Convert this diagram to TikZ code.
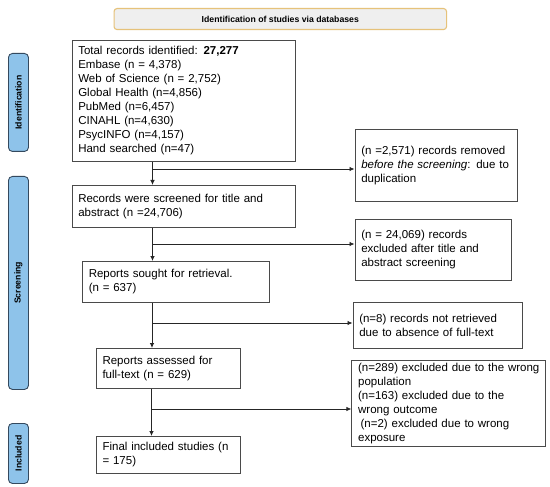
\documentclass[tikz,border=0pt]{standalone}
\usepackage{fontspec}
\setmainfont{Liberation Sans}
\usetikzlibrary{arrows.meta}
\definecolor{boxline}{HTML}{4A4A4A}
\definecolor{sidefill}{HTML}{8EC3EA}
\definecolor{sideline}{HTML}{34495E}
\definecolor{banfill}{HTML}{EFEFEF}
\definecolor{banline}{HTML}{E6C27A}
\tikzset{
  box/.style={draw=boxline, line width=0.9pt, anchor=north west, align=left,
    inner xsep=6.3pt, inner ysep=0pt, font=\fontsize{11.5}{14}\selectfont},
  side/.style={draw=sideline, fill=sidefill, line width=0.9pt, rounded corners=4pt,
    anchor=north west, minimum width=20pt, inner sep=0pt},
  sidetext/.style={rotate=90, font=\fontsize{8.7}{10}\selectfont\bfseries},
  arr/.style={draw=black!85, line width=0.8pt, -{Latex[length=5pt,width=4.5pt]}}
}
\begin{document}
\begin{tikzpicture}[x=1pt,y=-1pt]
\useasboundingbox[fill=white] (0,0) rectangle (550,487);
% banner
\node[draw=banline, fill=banfill, line width=1.1pt, rounded corners=3pt,
  anchor=north west, minimum width=332.5pt, minimum height=21pt, inner sep=0pt,
  font=\fontsize{8.7}{10}\selectfont\bfseries] (ban) at (113.5,8)
  {Identification of studies via databases};
% side bars
\node[side, minimum height=98pt] (s1) at (8,53) {};
\node[sidetext] at (s1.center) {Identification};
\node[side, minimum height=213pt] (s2) at (8,176) {};
\node[sidetext] at (s2.center) {Screening};
\node[side, minimum height=60pt] (s3) at (8,423) {};
\node[sidetext] at (s3.center) {Included};
% main boxes
\node[box, text width=210.9pt, minimum height=121pt] (b1) at (71.5,40)
  {Total records identified: \textbf{27,277}\\
   Embase (n = 4,378)\\
   Web of Science (n = 2,752)\\
   Global Health (n=4,856)\\
   PubMed (n=6,457)\\
   CINAHL (n=4,630)\\
   PsycINFO (n=4,157)\\
   Hand searched (n=47)};
\node[box, text width=210.9pt, minimum height=42pt] (b2) at (71.5,185)
  {\mbox{Records were screened for title and}\\abstract (n =24,706)};
\node[box, text width=173.9pt, minimum height=41pt] (b3) at (82,261)
  {Reports sought for retrieval.\\(n = 637)};
\node[box, text width=131.6pt, minimum height=40pt] (b4) at (95.8,348)
  {Reports assessed for\\full-text (n = 629)};
\node[box, text width=131.6pt, minimum height=37pt] (b5) at (95.8,436)
  {\mbox{Final included studies (n}\\= 175)};
% side boxes
\node[box, text width=149.4pt, minimum height=72pt] (r1) at (354.5,129)
  {\mbox{(n =2,571) records removed}\\\mbox{\textit{before the screening}: due to}\\duplication};
\node[box, text width=143.4pt, minimum height=61pt] (r2) at (354.5,219)
  {(n = 24,069) records\\\mbox{excluded after title and}\\abstract screening};
\node[box, text width=156.6pt, minimum height=46pt] (r3) at (352.5,302)
  {\mbox{(n=8) records not retrieved}\\\mbox{due to absence of full-text}};
\node[box, text width=181pt, minimum height=86pt] (r4) at (351.4,360)
  {\mbox{(n=289) excluded due to the wrong}\\population\\\mbox{(n=163) excluded due to the}\\wrong outcome\\\mbox{\hspace*{2.5pt}(n=2) excluded due to wrong}\\exposure};
% junctions
\coordinate (j1) at (152.5,169);
\coordinate (j2) at (152.5,244);
\coordinate (j3) at (152,323);
\coordinate (j4) at (151.5,409);
% connectors
\draw[arr] (b1.south -| j1) -- (b2.north -| j1);
\draw[arr] (j1) -- (r1.west |- j1);
\draw[arr] (b2.south -| j2) -- (b3.north -| j2);
\draw[arr] (j2) -- (r2.west |- j2);
\draw[arr] (b3.south -| j3) -- (b4.north -| j3);
\draw[arr] (j3) -- (r3.west |- j3);
\draw[arr] (b4.south -| j4) -- (b5.north -| j4);
\draw[arr] (j4) -- (r4.west |- j4);
\end{tikzpicture}
\end{document}
